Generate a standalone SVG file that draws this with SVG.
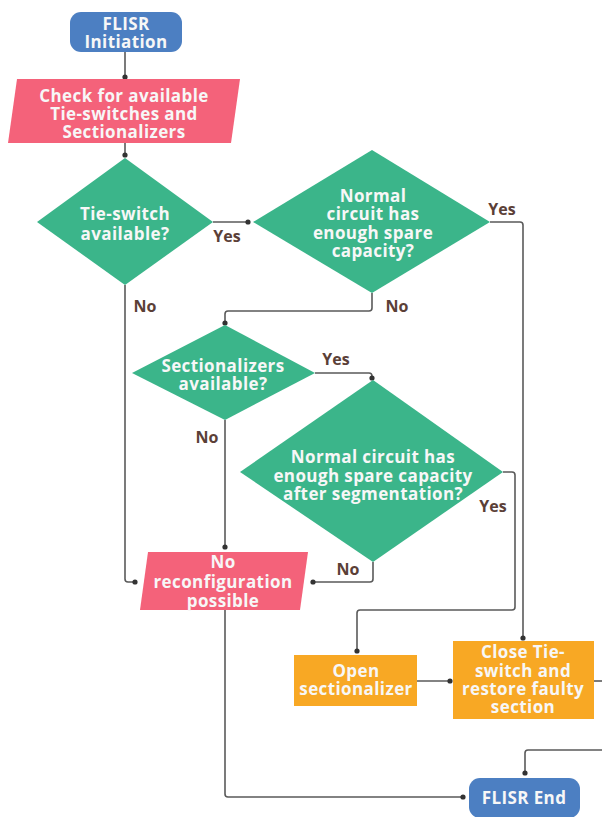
<svg xmlns="http://www.w3.org/2000/svg" width="602" height="817" viewBox="0 0 602 817">
  <defs>
    <marker id="dot" viewBox="0 0 6 6" refX="3" refY="3" markerWidth="6" markerHeight="6" markerUnits="userSpaceOnUse">
      <circle cx="3" cy="3" r="2.6" fill="#333"/>
    </marker>
    <style>
      .term { fill: #4c7fc2; }
      .io { fill: #f4627a; }
      .dec { fill: #3bb58a; }
      .proc { fill: #f8a824; }
      .nt { font-family: "Open Sans", "Liberation Sans", sans-serif; font-weight: 700; font-size: 17px; letter-spacing: 0.4px; fill: #f7f7f7; text-anchor: middle; }
      .lbl { font-family: "Open Sans", "Liberation Sans", sans-serif; font-weight: 700; font-size: 16px; fill: #5b4037; text-anchor: middle; }
      .conn path { fill: none; stroke: #5a5a5a; stroke-width: 1.6; stroke-linejoin: round; }
      .conn path.d { marker-end: url(#dot); }
    </style>
  </defs>
  <rect width="602" height="817" fill="#ffffff"/>

  <!-- connectors -->
  <g id="connectors" class="conn">
    <path class="d" d="M125,52 V77"/>
    <path class="d" d="M125,143 V155"/>
    <path class="d" d="M213,222 H248"/>
    <path class="d" d="M490,222 H520 Q523,222 523,225 V638"/>
    <path class="d" d="M372,293 V308 Q372,311 369,311 H228 Q225,311 225,314 V323"/>
    <path class="d" d="M125,285 V579 Q125,582 128,582 H135"/>
    <path class="d" d="M315,373 H369 Q372,373 372,376 V378"/>
    <path class="d" d="M225,420 V547"/>
    <path class="d" d="M503,472 H512 Q515,472 515,475 V607 Q515,610 512,610 H360 Q357,610 357,613 V651"/>
    <path class="d" d="M373,562 V579 Q373,582 370,582 H313"/>
    <path class="d" d="M225,610 V794 Q225,797 228,797 H463"/>
    <path class="d" d="M417,681 H450"/>
    <path d="M594,681 H602"/>
    <path class="d" d="M602,750 H528 Q525,750 525,753 V773"/>
  </g>

  <!-- edge labels -->
  <g id="edge-labels">
    <text class="lbl" x="227" y="242">Yes</text>
    <text class="lbl" x="145" y="312">No</text>
    <text class="lbl" x="502" y="215">Yes</text>
    <text class="lbl" x="397" y="312">No</text>
    <text class="lbl" x="336" y="365">Yes</text>
    <text class="lbl" x="207" y="443">No</text>
    <text class="lbl" x="493" y="512">Yes</text>
    <text class="lbl" x="348" y="575">No</text>
  </g>

  <g id="start">
    <rect class="term" x="70" y="12" width="112" height="40" rx="11"/>
    <text class="nt" x="126" y="30">FLISR</text>
    <text class="nt" x="126" y="48">Initiation</text>
  </g>

  <g id="check">
    <polygon class="io" points="17,79 240,79 231,143 8,143"/>
    <text class="nt" x="124" y="102">Check for available</text>
    <text class="nt" x="124" y="120">Tie-switches and</text>
    <text class="nt" x="124" y="138">Sectionalizers</text>
  </g>

  <g id="tie-switch">
    <polygon class="dec" points="125,158 213,222 125,285 37,222"/>
    <text class="nt" x="125" y="220">Tie-switch</text>
    <text class="nt" x="125" y="240">available?</text>
  </g>

  <g id="capacity">
    <polygon class="dec" points="372,150 490,222 372,293 253,222"/>
    <text class="nt" x="373" y="202">Normal</text>
    <text class="nt" x="373" y="220">circuit has</text>
    <text class="nt" x="373" y="239">enough spare</text>
    <text class="nt" x="373" y="257">capacity?</text>
  </g>

  <g id="sectionalizers">
    <polygon class="dec" points="225,325 315,373 225,420 132,373"/>
    <text class="nt" x="223" y="372">Sectionalizers</text>
    <text class="nt" x="223" y="390">available?</text>
  </g>

  <g id="capacity-after">
    <polygon class="dec" points="373,380 503,472 373,562 240,472"/>
    <text class="nt" x="373" y="463">Normal circuit has</text>
    <text class="nt" x="373" y="482">enough spare capacity</text>
    <text class="nt" x="373" y="500">after segmentation?</text>
  </g>

  <g id="no-reconfig">
    <polygon class="io" points="148,552 308,552 300,610 140,610"/>
    <text class="nt" x="223" y="568">No</text>
    <text class="nt" x="223" y="588">reconfiguration</text>
    <text class="nt" x="223" y="607">possible</text>
  </g>

  <g id="open-sectionalizer">
    <rect class="proc" x="294" y="655" width="123" height="51"/>
    <text class="nt" x="356" y="677">Open</text>
    <text class="nt" x="356" y="695">sectionalizer</text>
  </g>

  <g id="close-tie">
    <rect class="proc" x="453" y="641" width="141" height="78"/>
    <text class="nt" x="523" y="658">Close Tie-</text>
    <text class="nt" x="523" y="677">switch and</text>
    <text class="nt" x="523" y="695">restore faulty</text>
    <text class="nt" x="523" y="713">section</text>
  </g>

  <g id="end">
    <rect class="term" x="469" y="778" width="111" height="40" rx="11"/>
    <text class="nt" x="524" y="804">FLISR End</text>
  </g>
</svg>
